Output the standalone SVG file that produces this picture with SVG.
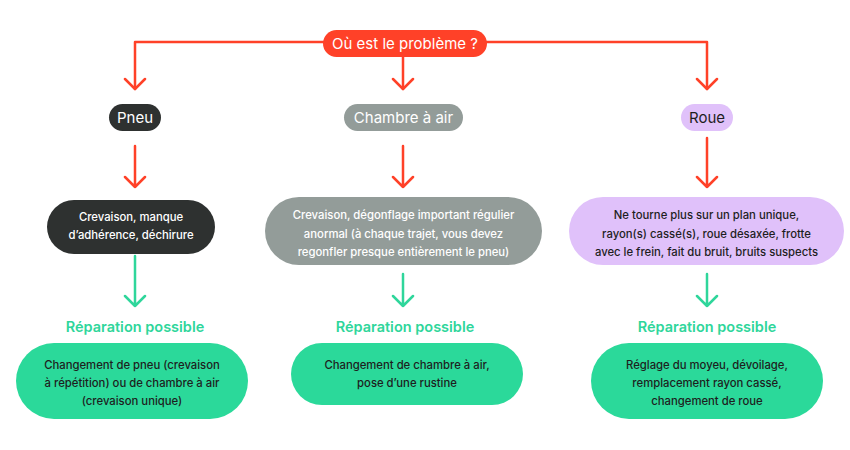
<svg xmlns="http://www.w3.org/2000/svg" width="850" height="450" viewBox="0 0 850 450">
<style>
.t{font-family:Inter,"Noto Sans","DejaVu Sans",sans-serif;text-anchor:middle}
.h{font-size:15px}
.b{font-size:11.3px;font-weight:500}
.w{fill:#ffffff}
.k{fill:#1e1e1e}
.g{fill:#2fd69b;font-weight:600;font-size:14.5px}
.red{stroke:#ff4128;stroke-width:2.5;fill:none;stroke-linecap:round;stroke-linejoin:round}
.grn{stroke:#2fd69b;stroke-width:2.5;fill:none;stroke-linecap:round;stroke-linejoin:round}
</style>
<rect width="850" height="450" fill="#ffffff"/>
<g id="connectors">
<path class="red" d="M323 42 H135 V89 M487 42 H707 V89 M403 57 V89"/>
<path class="red" d="M125 79 L135 89 L145 79 M393 79 L403 89 L413 79 M697 79 L707 89 L717 79"/>
<path class="red" d="M135 146 V187 M125 177 L135 187 L145 177 M403 146 V187 M393 177 L403 187 L413 177 M707 138 V187 M697 177 L707 187 L717 177"/>
<path class="grn" d="M135 256 V306 M125 296 L135 306 L145 296 M403 274 V306 M393 296 L403 306 L413 296 M707 274 V306 M697 296 L707 306 L717 296"/>
</g>
<g id="root">
<rect x="323" y="30" width="164" height="27" rx="13.5" fill="#ff4128"/>
<text class="t h w" x="405" y="48.5">Où est le problème ?</text>
</g>
<g id="pneu">
<rect x="109" y="104" width="52" height="27" rx="13.5" fill="#2e3130"/>
<text class="t h w" x="135" y="122.5">Pneu</text>
</g>
<g id="chambre">
<rect x="344" y="104" width="119" height="27" rx="13.5" fill="#939c99"/>
<text class="t h w" x="403.5" y="122.5">Chambre à air</text>
</g>
<g id="roue">
<rect x="681" y="104" width="52" height="27" rx="13.5" fill="#e0c1fa"/>
<text class="t h k" x="707" y="122.5">Roue</text>
</g>
<g id="pneu-desc">
<rect x="47" y="200" width="168" height="54" rx="27" fill="#2e3130"/>
<text class="t b w" x="131" y="221">Crevaison, manque</text>
<text class="t b w" x="131" y="239">d’adhérence, déchirure</text>
</g>
<g id="chambre-desc">
<rect x="265" y="197" width="277" height="68" rx="34" fill="#939c99"/>
<text class="t b w" x="403.5" y="219">Crevaison, dégonflage important régulier</text>
<text class="t b w" x="403.5" y="237.5">anormal (à chaque trajet, vous devez</text>
<text class="t b w" x="403.5" y="256">regonfler presque entièrement le pneu)</text>
</g>
<g id="roue-desc">
<rect x="569" y="197" width="275" height="68" rx="34" fill="#e0c1fa"/>
<text class="t b k" x="706.5" y="219">Ne tourne plus sur un plan unique,</text>
<text class="t b k" x="706.5" y="237.5">rayon(s) cassé(s), roue désaxée, frotte</text>
<text class="t b k" x="706.5" y="256">avec le frein, fait du bruit, bruits suspects</text>
</g>
<g id="rep-label-1"><text class="t g" x="135" y="332">Réparation possible</text></g>
<g id="rep-label-2"><text class="t g" x="405" y="332">Réparation possible</text></g>
<g id="rep-label-3"><text class="t g" x="707" y="332">Réparation possible</text></g>
<g id="rep-pneu">
<rect x="16" y="343" width="232" height="76" rx="38" fill="#2bd99a"/>
<text class="t b k" x="132" y="369">Changement de pneu (crevaison</text>
<text class="t b k" x="132" y="387">à répétition) ou de chambre à air</text>
<text class="t b k" x="132" y="405">(crevaison unique)</text>
</g>
<g id="rep-chambre">
<rect x="291" y="343" width="232" height="62" rx="31" fill="#2bd99a"/>
<text class="t b k" x="407" y="369">Changement de chambre à air,</text>
<text class="t b k" x="407" y="387">pose d’une rustine</text>
</g>
<g id="rep-roue">
<rect x="591" y="343" width="232" height="76" rx="38" fill="#2bd99a"/>
<text class="t b k" x="707" y="369">Réglage du moyeu, dévoilage,</text>
<text class="t b k" x="707" y="387">remplacement rayon cassé,</text>
<text class="t b k" x="707" y="405">changement de roue</text>
</g>
</svg>
